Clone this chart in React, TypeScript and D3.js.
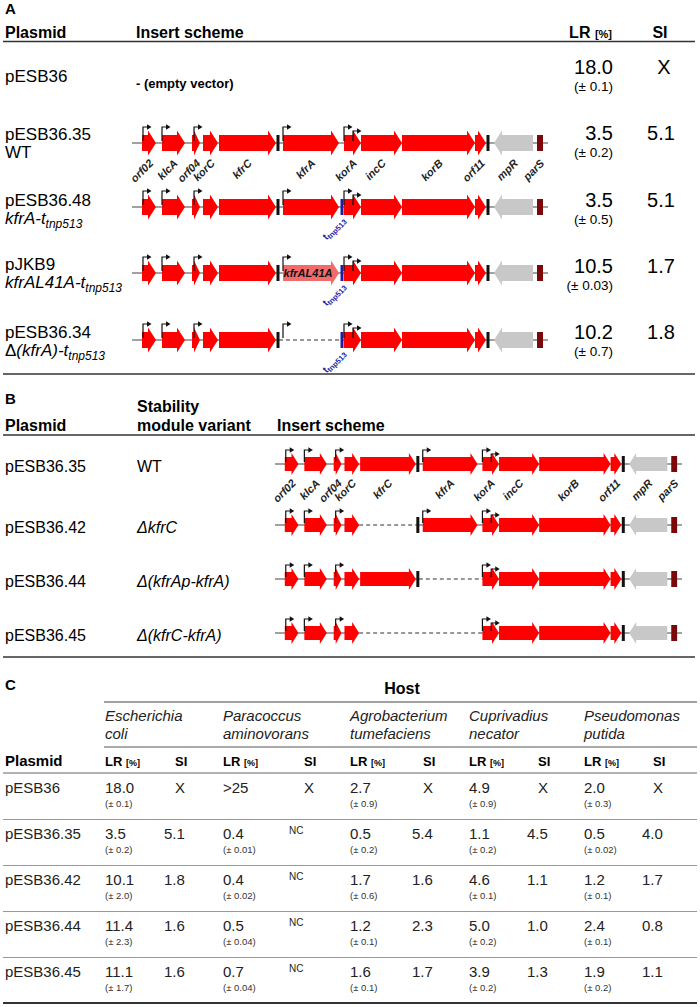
import * as d3 from "d3";

const FONT = "'Liberation Sans', Arial, Helvetica, sans-serif";

// ---- gene map of the insert (map units) ----
const geneNames = ["orf02", "klcA", "orf04", "korC", "kfrC", "kfrA", "korA", "incC", "korB", "orf11", "mpR", "parS"];
const geneStart = [10, 30, 60, 71, 87, 151, 212, 229, 270, 343, 362, 405];
const geneEnd = [24, 53, 68, 86, 144, 207, 229, 270, 343, 354, 401, 411];
const geneKind = ["r", "r", "r", "r", "r", "r", "r", "r", "r", "r", "grey", "box"];
const terminatorIds = ["t1", "t2"];
const terminatorPos = [146, 356];
const promoterIds = ["orf02p", "klcAp", "orf04p", "kfrAp", "korAp1", "korAp2"];
const promoterPos = [11, 30, 62, 151, 212, 221];
const promoterShort = [false, false, false, false, false, true];
const tnpPos = 210;
const mapLength = 416;

// ---- panel A ----
const plasmidsA = ["pESB36", "pESB36.35", "pESB36.48", "pJKB9", "pESB36.34"];
const variantsA = ["", "WT", "kfrA-t", "kfrAL41A-t", "(kfrA)-t"];
const lrA = ["18.0", "3.5", "3.5", "10.5", "10.2"];
const errA = ["0.1", "0.2", "0.5", "0.03", "0.7"];
const siA = ["X", "5.1", "5.1", "1.7", "1.8"];
const removedA = [[], [], [], [], ["kfrA"]];
const dashedA = [[], [], [], [], [[147, 210]]];
const tnpA = [false, false, true, true, true];
const mutantA = ["", "", "", "kfrAL41A", ""];

// ---- panel B ----
const plasmidsB = ["pESB36.35", "pESB36.42", "pESB36.44", "pESB36.45"];
const variantsB = ["WT", "\u0394kfrC", "\u0394(kfrAp-kfrA)", "\u0394(kfrC-kfrA)"];
const removedB = [[], ["kfrC"], ["kfrA", "kfrAp"], ["kfrC", "t1", "kfrA", "kfrAp"]];
const dashedB = [[], [[86, 146]], [[147, 212]], [[86, 212]]];

// ---- panel C ----
const hostsLine1 = ["Escherichia", "Paracoccus", "Agrobacterium", "Cuprivadius", "Pseudomonas"];
const hostsLine2 = ["coli", "aminovorans", "tumefaciens", "necator", "putida"];
const plasmidsC = ["pESB36", "pESB36.35", "pESB36.42", "pESB36.44", "pESB36.45"];
const lrC = [
  ["18.0", ">25", "2.7", "4.9", "2.0"],
  ["3.5", "0.4", "0.5", "1.1", "0.5"],
  ["10.1", "0.4", "1.7", "4.6", "1.2"],
  ["11.4", "0.5", "1.2", "5.0", "2.4"],
  ["11.1", "0.7", "1.6", "3.9", "1.9"],
];
const errC = [
  ["0.1", "", "0.9", "0.9", "0.3"],
  ["0.2", "0.01", "0.2", "0.2", "0.02"],
  ["2.0", "0.02", "0.6", "0.1", "0.1"],
  ["2.3", "0.04", "0.1", "0.2", "0.1"],
  ["1.7", "0.04", "0.1", "0.2", "0.2"],
];
const siC = [
  ["X", "X", "X", "X", "X"],
  ["5.1", "NC", "5.4", "4.5", "4.0"],
  ["1.8", "NC", "1.6", "1.1", "1.7"],
  ["1.6", "NC", "2.3", "1.0", "0.8"],
  ["1.6", "NC", "1.7", "1.3", "1.1"],
];

const RED = "#ff0000";
const LIGHTRED = "#f36a6a";
const GREY = "#c8c8c8";
const DARKRED = "#7a0808";
const BLUE = "#1e1e9e";

interface Dims {
  body: number;
  head: number;
  hl: number;
  prom: number;
  labelDy: number;
}

function arrowPath(x0: number, x1: number, y: number, d: Dims, dir: number) {
  const h = Math.min(d.hl, x1 - x0 - 2);
  const b = d.body / 2;
  const hh = d.head / 2;
  const pts: [number, number][] =
    dir > 0
      ? [[x0, y - b], [x1 - h, y - b], [x1 - h, y - hh], [x1, y], [x1 - h, y + hh], [x1 - h, y + b], [x0, y + b]]
      : [[x1, y - b], [x0 + h, y - b], [x0 + h, y - hh], [x0, y], [x0 + h, y + hh], [x0 + h, y + b], [x1, y + b]];
  return d3.line()(pts) + "Z";
}

function solidSegments(dashed: number[][]) {
  const segs: number[][] = [];
  let cur = 0;
  dashed
    .slice()
    .sort((a, b) => a[0] - b[0])
    .forEach((s) => {
      segs.push([cur, s[0]]);
      cur = s[1];
    });
  segs.push([cur, mapLength]);
  return segs;
}

function Scheme(props: {
  x: d3.ScaleLinear<number, number>;
  bb: number;
  removed: string[];
  dashed: number[][];
  tnp: boolean;
  mutant: string;
  labels: boolean;
  dims: Dims;
}) {
  const { x, bb, removed, dashed, tnp, mutant, labels, dims } = props;
  return (
    <g>
      {solidSegments(dashed).map((s, i) => (
        <line key={"s" + i} x1={x(s[0])} x2={x(s[1])} y1={bb} y2={bb} stroke="#444" strokeWidth={1.2} />
      ))}
      {dashed.map((s, i) => (
        <line key={"d" + i} x1={x(s[0])} x2={x(s[1])} y1={bb} y2={bb} stroke="#333" strokeWidth={1.2} strokeDasharray="4,3" />
      ))}
      {geneNames.map((g, i) => {
        if (removed.includes(g)) return null;
        const x0 = x(geneStart[i]);
        const x1 = x(geneEnd[i]);
        if (geneKind[i] === "box") {
          return <rect key={g} x={x0} y={bb - 8} width={x1 - x0} height={16} fill={DARKRED} />;
        }
        const isMut = g === "kfrA" && mutant !== "";
        return (
          <g key={g}>
            <path
              d={arrowPath(x0, x1, bb, dims, geneKind[i] === "grey" ? -1 : 1)}
              fill={geneKind[i] === "grey" ? GREY : isMut ? LIGHTRED : RED}
            />
            {isMut && (
              <text x={(x0 + x1) / 2 - 3} y={bb + 4} textAnchor="middle" fontSize={11} fontWeight="bold" fontStyle="italic" fill="#111">
                {mutant}
              </text>
            )}
          </g>
        );
      })}
      {terminatorIds.map((t, i) =>
        removed.includes(t) ? null : (
          <rect key={t} x={x(terminatorPos[i]) - 1.5} y={bb - 8} width={3} height={16} fill="#111" />
        )
      )}
      {tnp && (
        <g>
          <rect x={x(tnpPos) - 1.5} y={bb - 8} width={3} height={16} fill={BLUE} />
          <text
            transform={`translate(${x(tnpPos) + 4},${bb + 14}) rotate(-45)`}
            textAnchor="end"
            fill={BLUE}
            fontWeight="bold"
          >
            <tspan fontSize={10}>t</tspan>
            <tspan fontSize={7.5} dy={2}>tnp513</tspan>
          </text>
        </g>
      )}
      {promoterIds.map((p, i) => {
        if (removed.includes(p)) return null;
        const px = x(promoterPos[i]);
        const h = promoterShort[i] ? dims.prom - 4 : dims.prom;
        const top = bb - h;
        return (
          <g key={p}>
            <path d={`M${px},${bb - 2}L${px},${top}L${px + 5},${top}`} fill="none" stroke="#111" strokeWidth={1.2} />
            <path d={`M${px + 4},${top - 2.8}L${px + 8.5},${top}L${px + 4},${top + 2.8}Z`} fill="#111" />
          </g>
        );
      })}
      {labels &&
        geneNames.map((g, i) => {
          const cx = x((geneStart[i] + geneEnd[i]) / 2) + 5;
          return (
            <text
              key={"l" + g}
              transform={`translate(${cx},${bb + dims.labelDy}) rotate(-45)`}
              textAnchor="end"
              fontSize={11}
              fontWeight="bold"
              fontStyle="italic"
              fill="#222"
            >
              {g}
            </text>
          );
        })}
    </g>
  );
}

export default function App() {
  const xA = d3.scaleLinear().domain([0, mapLength]).range([132, 548]);
  const xB = d3.scaleLinear().domain([0, mapLength]).range([275, 682]);
  const dimsA: Dims = { body: 16, head: 25, hl: 8, prom: 16, labelDy: 21 };
  const dimsB: Dims = { body: 14, head: 22, hl: 7, prom: 14, labelDy: 20 };

  const labelBaseA = [82, 140, 206, 270, 338];
  const valueBaseA = [74, 140, 207, 273, 339];
  const backboneA = [0, 143, 207, 273, 340];
  const backboneB = [464, 525, 579, 633];

  const lrColC = [105, 223, 350, 469, 584];
  const siColC = [175, 304, 423, 538, 653];
  const rowC = d3.scaleLinear().domain([0, 1]).range([793, 839]);

  const hline = (y: number, x1: number, x2: number, color: string, w: number) => (
    <line x1={x1} x2={x2} y1={y} y2={y} stroke={color} strokeWidth={w} />
  );

  return (
    <svg width={700} height={1007} style={{ position: "absolute", left: 0, top: 0, background: "#fff" }} fontFamily={FONT}>
      <rect width={700} height={1007} fill="#fff" />

      {/* ---------- A ---------- */}
      <text x={5} y={14} fontSize={15} fontWeight="bold">A</text>
      <text x={5} y={38} fontSize={16} fontWeight="bold">Plasmid</text>
      <text x={136} y={38} fontSize={16} fontWeight="bold">Insert scheme</text>
      <text x={612} y={38} textAnchor="end" fontWeight="bold">
        <tspan fontSize={16}>LR </tspan>
        <tspan fontSize={11}>[%]</tspan>
      </text>
      <text x={660} y={38} textAnchor="middle" fontSize={16} fontWeight="bold">SI</text>
      {hline(41.5, 3, 695, "#333", 1.5)}

      {plasmidsA.map((p, i) => (
        <g key={p}>
          <text x={5} y={labelBaseA[i]} fontSize={17}>{p}</text>
          {i > 0 && (
            <text x={5} y={labelBaseA[i] + 18} fontSize={17}>
              {i === 4 && <tspan>{"\u0394"}</tspan>}
              <tspan fontStyle={i > 1 ? "italic" : "normal"}>{variantsA[i]}</tspan>
              {i > 1 && (
                <tspan fontStyle="italic" fontSize={12} dy={4}>tnp513</tspan>
              )}
            </text>
          )}
          <text x={613} y={valueBaseA[i]} textAnchor="end" fontSize={20}>{lrA[i]}</text>
          <text x={613} y={valueBaseA[i] + 17} textAnchor="end" fontSize={13.5}>{`(\u00b1 ${errA[i]})`}</text>
          <text x={siA[i] === "X" ? 664 : 661} y={valueBaseA[i]} textAnchor="middle" fontSize={20}>{siA[i]}</text>
          {i === 0 ? (
            <text x={136} y={88} fontSize={13} fontWeight="bold">- (empty vector)</text>
          ) : (
            <Scheme
              x={xA}
              bb={backboneA[i]}
              removed={removedA[i]}
              dashed={dashedA[i]}
              tnp={tnpA[i]}
              mutant={mutantA[i]}
              labels={i === 1}
              dims={dimsA}
            />
          )}
        </g>
      ))}
      {hline(374, 3, 695, "#333", 1.5)}

      {/* ---------- B ---------- */}
      <text x={5} y={404} fontSize={15} fontWeight="bold">B</text>
      <text x={137} y={412} fontSize={16} fontWeight="bold">Stability</text>
      <text x={137} y={431} fontSize={16} fontWeight="bold">module variant</text>
      <text x={5} y={431} fontSize={16} fontWeight="bold">Plasmid</text>
      <text x={277} y={431} fontSize={16} fontWeight="bold">Insert scheme</text>
      {hline(435, 3, 695, "#333", 1.5)}
      {plasmidsB.map((p, i) => (
        <g key={p}>
          <text x={5} y={backboneB[i] + 8} fontSize={16}>{p}</text>
          <text x={137} y={backboneB[i] + 8} fontSize={16} fontStyle={i > 0 ? "italic" : "normal"}>{variantsB[i]}</text>
          <Scheme
            x={xB}
            bb={backboneB[i]}
            removed={removedB[i]}
            dashed={dashedB[i]}
            tnp={false}
            mutant=""
            labels={i === 0}
            dims={dimsB}
          />
        </g>
      ))}
      {hline(657, 3, 695, "#333", 1.5)}

      {/* ---------- C ---------- */}
      <text x={5} y={690} fontSize={15} fontWeight="bold">C</text>
      <text x={402} y={694} textAnchor="middle" fontSize={16} fontWeight="bold">Host</text>
      {hline(702, 104, 697, "#444", 1)}
      {hostsLine1.map((h, j) => (
        <g key={h}>
          <text x={lrColC[j]} y={721} fontSize={15} fontStyle="italic" fill="#222">{h}</text>
          <text x={lrColC[j]} y={739} fontSize={15} fontStyle="italic" fill="#222">{hostsLine2[j]}</text>
        </g>
      ))}
      {hline(747, 104, 697, "#555", 1)}
      <text x={5} y={766} fontSize={15} fontWeight="bold">Plasmid</text>
      {lrColC.map((cx, j) => (
        <g key={"h" + j}>
          <text x={cx} y={766} fontWeight="bold">
            <tspan fontSize={13}>LR </tspan>
            <tspan fontSize={9}>[%]</tspan>
          </text>
          <text x={siColC[j]} y={766} fontSize={13} fontWeight="bold">SI</text>
        </g>
      ))}
      {hline(773, 3, 697, "#666", 1)}
      {plasmidsC.map((p, i) => {
        const y = rowC(i);
        return (
          <g key={p}>
            <text x={5} y={y} fontSize={15} fill="#222">{p}</text>
            {lrC[i].map((v, j) => (
              <g key={j}>
                <text x={lrColC[j]} y={y} fontSize={15} fill="#222">{v}</text>
                {errC[i][j] !== "" && (
                  <text x={lrColC[j]} y={y + 14} fontSize={9.5} fill="#333">{`(\u00b1 ${errC[i][j]})`}</text>
                )}
                {siC[i][j] === "NC" ? (
                  <text x={siColC[j] - 15} y={y - 5} fontSize={10} fill="#222">NC</text>
                ) : (
                  <text x={siC[i][j] === "X" ? siColC[j] : siColC[j] - 11} y={y} fontSize={15} fill="#222">
                    {siC[i][j]}
                  </text>
                )}
              </g>
            ))}
            {i < plasmidsC.length - 1 && hline(y + 26.5, 3, 697, "#999", 1)}
          </g>
        );
      })}
      {hline(1003, 3, 697, "#333", 2)}
    </svg>
  );
}
